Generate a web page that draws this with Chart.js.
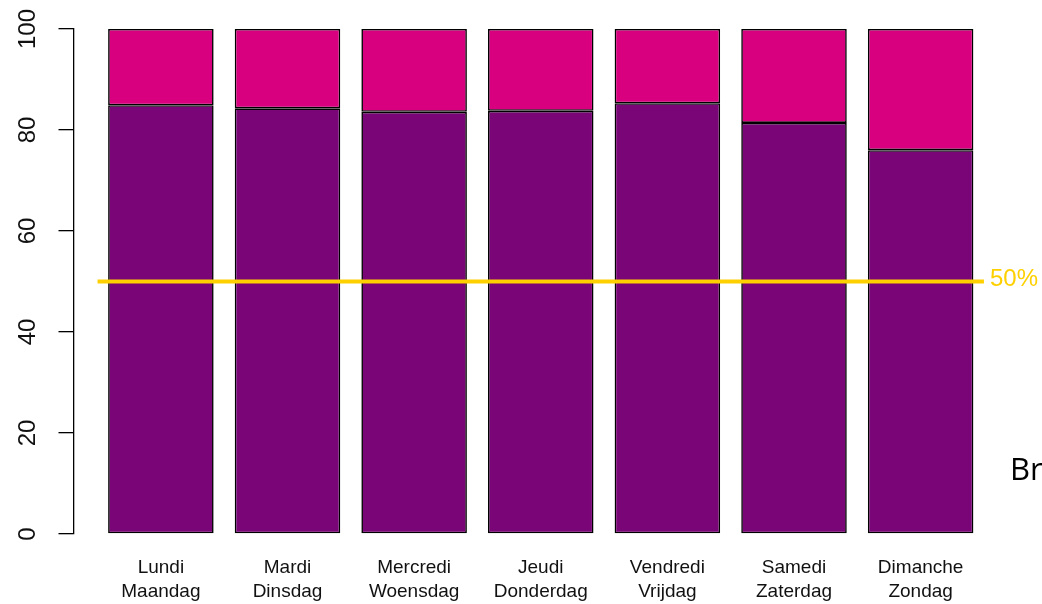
<!DOCTYPE html>
<html>
<head>
<meta charset="utf-8">
<script src="https://cdn.jsdelivr.net/npm/chart.js@4.4.1/dist/chart.umd.min.js"></script>
<style>
  html, body { margin: 0; padding: 0; background: #ffffff; }
  canvas { display: block; }
</style>
</head>
<body>
<canvas id="c" width="1042" height="604"></canvas>
<script>
// ---- data ----
const dayLabelsFR = ["Lundi", "Mardi", "Mercredi", "Jeudi", "Vendredi", "Samedi", "Dimanche"];
const dayLabelsNL = ["Maandag", "Dinsdag", "Woensdag", "Donderdag", "Vrijdag", "Zaterdag", "Zondag"];
const lowerShare = [84.9, 84.3, 83.6, 83.8, 85.3, 81.4, 76.0];
const upperShare = lowerShare.map(v => +(100 - v).toFixed(1));
const yTicks = [0, 20, 40, 60, 80, 100];
const refValue = 50;
const refLabel = "50%";
const sideText = "Br";

// ---- R barplot style layout (bar width 1, space 0.2, 4% axis extension) ----
const n = dayLabelsFR.length;
const centers = dayLabelsFR.map((_, i) => 0.2 + 0.5 + 1.2 * i);
const xLeft = 0.2, xRight = 1.2 * n;
const ext = (xRight - xLeft) * 0.04;
const xMin = xLeft - ext, xMax = xRight + ext;
const refFrom = 0.1, refTo = 8.5;

const purple = '#7A0577';
const pink = '#D90080';
const gold = '#FFD000';

const overlayText = {
  id: 'overlayText',
  afterDraw(chart) {
    const ctx = chart.ctx;
    const y = chart.scales.y;
    const x = chart.scales.x;
    ctx.save();
    // rotated y tick labels (R las=0 style)
    ctx.fillStyle = '#111';
    ctx.font = '24px "Liberation Sans", Arial, sans-serif';
    ctx.textAlign = 'center';
    ctx.textBaseline = 'alphabetic';
    y.ticks.forEach(t => {
      const py = y.getPixelForValue(t.value);
      ctx.save();
      ctx.translate(y.right - 38.5, py);
      ctx.rotate(-Math.PI / 2);
      ctx.fillText(String(t.value), 0, 0);
      ctx.restore();
    });
    // reference label
    ctx.fillStyle = gold;
    ctx.font = '24px "Liberation Sans", Arial, sans-serif';
    ctx.textAlign = 'left';
    ctx.textBaseline = 'middle';
    ctx.fillText(refLabel, x.getPixelForValue(refTo) + 6, y.getPixelForValue(refValue) - 2);
    // clipped side text
    ctx.fillStyle = '#000';
    ctx.font = '31px "Open Sans", sans-serif';
    ctx.textBaseline = 'alphabetic';
    ctx.fillText(sideText, 1010, 480);
    ctx.restore();
  }
};

new Chart(document.getElementById('c'), {
  data: {
    datasets: [
      {
        type: 'line',
        data: [{ x: refFrom, y: refValue }, { x: refTo, y: refValue }],
        borderColor: gold,
        borderWidth: 4,
        pointRadius: 0,
        stack: 'ref',
        order: 0
      },
      {
        type: 'bar',
        data: lowerShare.map((v, i) => ({ x: centers[i], y: v })),
        backgroundColor: purple,
        borderColor: '#000',
        borderWidth: 1.6,
        borderSkipped: false,
        stack: 'days',
        order: 1
      },
      {
        type: 'bar',
        data: upperShare.map((v, i) => ({ x: centers[i], y: v })),
        backgroundColor: pink,
        borderColor: '#000',
        borderWidth: 1.6,
        borderSkipped: false,
        stack: 'days',
        order: 1
      }
    ]
  },
  options: {
    responsive: false,
    animation: false,
    layout: { padding: { top: 29, right: 34, left: 0, bottom: 0 } },
    datasets: { bar: { categoryPercentage: 1, barPercentage: 1 / 1.2 } },
    plugins: { legend: { display: false }, tooltip: { enabled: false } },
    scales: {
      x: {
        type: 'linear',
        offset: false,
        bounds: 'data',
        min: xMin,
        max: xMax,
        stacked: true,
        afterBuildTicks: (s) => { s.ticks = centers.map(v => ({ value: v })); },
        afterFit: (s) => { s.height = 70; },
        ticks: {
          autoSkip: false,
          maxRotation: 0,
          padding: 22,
          color: '#111',
          font: { family: '"Liberation Sans", Arial, sans-serif', size: 19, lineHeight: 24 / 19 },
          callback: (v, i) => [dayLabelsFR[i], dayLabelsNL[i]]
        },
        grid: { display: false, drawTicks: false },
        border: { display: false }
      },
      y: {
        type: 'linear',
        min: 0,
        max: 100,
        stacked: true,
        afterBuildTicks: (s) => { s.ticks = yTicks.map(v => ({ value: v })); },
        afterFit: (s) => { s.width = 73.5; },
        ticks: { display: false },
        grid: { drawOnChartArea: false, drawTicks: true, tickLength: 15, color: '#000', lineWidth: 1.3 },
        border: { display: true, color: '#000', width: 1.3 }
      }
    }
  },
  plugins: [overlayText]
});
</script>
</body>
</html>
